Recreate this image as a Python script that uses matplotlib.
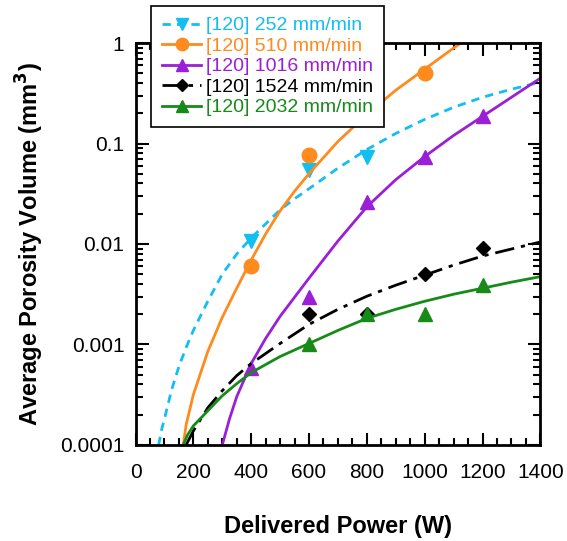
import numpy as np
import matplotlib
matplotlib.use("Agg")
import matplotlib.pyplot as plt
from matplotlib.ticker import FixedLocator, FixedFormatter, LogLocator, MultipleLocator, NullFormatter

plt.rcParams["font.family"] = ["Liberation Sans", "DejaVu Sans"]

OUT_FIG = "out.png"

# --- measured points ---
power_252 = [400, 600, 800]
vol_252 = [0.0108, 0.054, 0.074]

power_510 = [400, 600, 1000]
vol_510 = [0.0061, 0.076, 0.50]

power_1016 = [400, 600, 800, 1000, 1200]
vol_1016 = [0.00058, 0.0030, 0.026, 0.074, 0.188]

power_1524 = [600, 800, 1000, 1200]
vol_1524 = [0.0020, 0.0020, 0.0050, 0.0092]

power_2032 = [600, 800, 1000, 1200]
vol_2032 = [0.0010, 0.0020, 0.0020, 0.0039]

# --- fit curves (log10 of volume) ---
fit_w_252 = [80, 90, 100, 125, 150, 175, 200, 250, 300, 350, 400, 450, 500, 550, 600,
             700, 800, 900, 1000, 1100, 1200, 1300, 1400]
fit_log_252 = [-4.0, -3.85, -3.74, -3.45, -3.22, -3.03, -2.86, -2.57, -2.30, -2.10, -1.94,
               -1.80, -1.66, -1.55, -1.45, -1.245, -1.06, -0.90, -0.76, -0.64, -0.54,
               -0.46, -0.39]

fit_w_510 = [165, 175, 200, 250, 300, 350, 400, 450, 500, 550, 600, 700, 800, 900,
             1000, 1100, 1150]
fit_log_510 = [-4.0, -3.80, -3.50, -3.07, -2.73, -2.44, -2.16, -1.90, -1.67, -1.475,
               -1.30, -0.98, -0.71, -0.47, -0.26, -0.05, 0.05]

fit_w_1016 = [300, 325, 350, 400, 450, 500, 550, 600, 700, 800, 900, 1000, 1100, 1200,
              1300, 1400]
fit_log_1016 = [-4.0, -3.74, -3.52, -3.19, -2.94, -2.72, -2.53, -2.34, -1.97, -1.63,
                -1.36, -1.13, -0.92, -0.73, -0.54, -0.35]

fit_w_1524 = [175, 200, 250, 300, 350, 400, 500, 600, 700, 800, 900, 1000, 1100, 1200,
              1300, 1400]
fit_log_1524 = [-4.0, -3.86, -3.63, -3.46, -3.31, -3.19, -2.99, -2.80, -2.65, -2.52,
                -2.41, -2.31, -2.21, -2.12, -2.05, -1.98]

fit_w_2032 = [165, 180, 200, 250, 300, 350, 400, 500, 600, 700, 800, 900, 1000, 1100,
              1200, 1300, 1400]
fit_log_2032 = [-4.0, -3.90, -3.81, -3.66, -3.51, -3.39, -3.28, -3.12, -2.99, -2.86,
                -2.74, -2.65, -2.57, -2.50, -2.44, -2.38, -2.325]

labels = ["[120] 252 mm/min", "[120] 510 mm/min", "[120] 1016 mm/min",
          "[120] 1524 mm/min", "[120] 2032 mm/min"]
colors = ["#12BEF2", "#FF8A1E", "#9A1FD6", "#000000", "#178A17"]

y_ticks = [0.0001, 0.001, 0.01, 0.1, 1]
y_tick_labels = ["0.0001", "0.001", "0.01", "0.1", "1"]
x_ticks = [0, 200, 400, 600, 800, 1000, 1200, 1400]


def main():
    fig = plt.figure(figsize=(5.67, 5.41), dpi=100)
    ax = fig.add_axes([0.239, 0.1775, 0.714, 0.743])

    series = [
        (power_252, vol_252, fit_w_252, fit_log_252, "v", (0, (3, 2.2)), 10),
        (power_510, vol_510, fit_w_510, fit_log_510, "o", "-", 10.5),
        (power_1016, vol_1016, fit_w_1016, fit_log_1016, "^", "-", 10),
        (power_1524, vol_1524, fit_w_1524, fit_log_1524, "D", (0, (7, 2.5, 1.5, 2.5)), 7.5),
        (power_2032, vol_2032, fit_w_2032, fit_log_2032, "^", "-", 10),
    ]

    handles = []
    for (px, py, fw, flog, mk, ls, ms), lab, c in zip(series, labels, colors):
        ax.plot(fw, 10.0 ** np.array(flog), color=c, ls=ls, lw=2)
        ax.plot(px, py, mk, color=c, ms=ms, mec=c, ls="none")
        h, = ax.plot([], [], color=c, ls=ls, lw=2, marker=mk, ms=ms * 0.85, mec=c)
        handles.append(h)

    ax.set_yscale("log")
    ax.set_xlim(0, 1400)
    ax.set_ylim(0.0001, 1)

    ax.xaxis.set_major_locator(FixedLocator(x_ticks))
    ax.xaxis.set_minor_locator(MultipleLocator(50))
    ax.yaxis.set_major_locator(FixedLocator(y_ticks))
    ax.yaxis.set_major_formatter(FixedFormatter(y_tick_labels))
    ax.yaxis.set_minor_locator(LogLocator(base=10, subs=np.arange(2, 10)))
    ax.yaxis.set_minor_formatter(NullFormatter())

    ax.tick_params(which="both", direction="in", top=True, right=True, width=1.5,
                   labelsize=15, colors="black")
    ax.tick_params(which="major", length=9)
    ax.tick_params(which="minor", length=5)
    ax.tick_params(axis="x", which="major", pad=13)
    ax.tick_params(axis="y", which="major", pad=8)
    for s in ax.spines.values():
        s.set_linewidth(2)

    ax.set_xlabel("Delivered Power (W)", fontsize=17, fontweight="bold", labelpad=24)
    ax.set_ylabel("Average Porosity Volume (mm$^\\mathbf{3}$)", fontsize=17,
                  fontweight="bold", labelpad=10)

    leg = ax.legend(handles, labels, loc="upper left", bbox_to_anchor=(0.038, 1.092),
                    borderaxespad=0, fontsize=14, fancybox=False, framealpha=1,
                    edgecolor="black", handlelength=2.05, handletextpad=0.25,
                    labelspacing=0.15, borderpad=0.55)
    leg.get_frame().set_linewidth(1.2)
    for t, c in zip(leg.get_texts(), colors):
        t.set_color(c)
    leg.set_zorder(5)

    fig.savefig(OUT_FIG, dpi=100)


if __name__ == "__main__":
    main()
